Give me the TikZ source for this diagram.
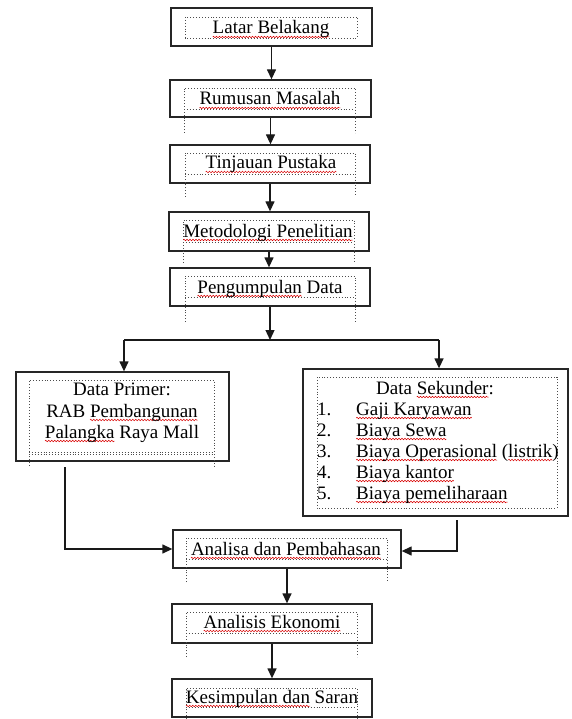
\documentclass[tikz,border=0pt]{standalone}
\usepackage{fontspec}
\setmainfont{Liberation Serif}
\usetikzlibrary{arrows.meta,decorations.pathmorphing}
\newsavebox{\sqbox}
\newcommand{\sq}[1]{\sbox{\sqbox}{#1}\rlap{\tikz[baseline=0pt,x=1pt,y=1pt]{\path[use as bounding box] (0,0); \draw[red!85!black, line width=0.5pt, decorate, decoration={zigzag, segment length=3pt, amplitude=0.8pt}] (0pt,-3pt) -- (\the\wd\sqbox,-3pt);}}\usebox{\sqbox}}
\tikzset{
  obox/.style={draw=black!85, line width=1.3pt, rectangle, inner sep=0pt},
  dotframe/.style={draw=black!70, line width=0.9pt, dotted},
  txt/.style={inner sep=0pt, font=\fontsize{19}{21}\selectfont, text=black},
  arr/.style={draw=black!90, line width=1.3pt, -{Triangle[width=9pt,length=10pt]}},
  ln/.style={draw=black!90, line width=1.3pt}
}
\begin{document}
\begin{tikzpicture}[x=1pt,y=-1pt]
\useasboundingbox (0,0) rectangle (571,719);
% outer boxes
\node[obox, minimum width=201pt, minimum height=38pt] (b1) at (271.5,27) {};
\node[obox, minimum width=201pt, minimum height=37pt] (b2) at (270.5,98.5) {};
\node[obox, minimum width=200pt, minimum height=38pt] (b3) at (270,164) {};
\node[obox, minimum width=200pt, minimum height=39pt] (b4) at (269,231.5) {};
\node[obox, minimum width=200pt, minimum height=38pt] (b5) at (270,287) {};
\node[obox, minimum width=213pt, minimum height=89pt] (bp) at (122.5,416.5) {};
\node[obox, minimum width=265pt, minimum height=147pt] (bs) at (435.5,442.5) {};
\node[obox, minimum width=228pt, minimum height=38pt] (ba) at (287,549) {};
\node[obox, minimum width=200pt, minimum height=39pt] (be) at (272,623.5) {};
\node[obox, minimum width=200pt, minimum height=38pt] (bk) at (272,698) {};
% inner dotted frames
\draw[dotframe] (185,17) rectangle (357,38);
\draw[dotframe] (184,133) -- (184,88) -- (355,88) -- (355,133) (184,109) -- (355,109);
\draw[dotframe] (185,197) -- (185,153) -- (355,153) -- (355,197) (185,174) -- (355,174);
\draw[dotframe] (183,263) -- (183,220) -- (354,220) -- (354,263) (183,242) -- (354,242);
\draw[dotframe] (185,322) -- (185,276) -- (355,276) -- (355,322) (185,297) -- (355,297);
\draw[dotframe] (29,466) -- (29,380) -- (214,380) -- (214,466) (29,452) -- (214,452) (29,454) -- (214,454);
\draw[dotframe] (317,377) rectangle (557,508);
\draw[dotframe] (186,582) -- (186,538) -- (387,538) -- (387,582) (186,559) -- (387,559);
\draw[dotframe] (186,657) -- (186,612) -- (357,612) -- (357,657) (186,633) -- (357,633);
\draw[dotframe] (186,719) -- (186,688) -- (357,688) -- (357,719) (186,707) -- (357,707);
% texts
\node[txt, anchor=base] (t1) at (271,34) {\sq{Latar Belakang}};
\node[txt, anchor=base] (t2) at (270,105) {\sq{Rumusan Masalah}};
\node[txt, anchor=base] (t3) at (271,169) {\sq{Tinjauan Pustaka}};
\node[txt, anchor=base] (t4) at (268,237) {\sq{Metodologi Penelitian}};
\node[txt, anchor=base] (t5) at (270,293) {\sq{Pengumpulan} Data};
\node[txt, anchor=base] (tp1) at (122,395) {Data Primer:};
\node[txt, anchor=base] (tp2) at (122,417) {RAB \sq{Pembangunan}};
\node[txt, anchor=base] (tp3) at (122,438) {\sq{Palangka} Raya Mall};
\node[txt, anchor=base] (ts0) at (435,394) {Data \sq{Sekunder}:};
\node[txt, anchor=base west] (n1) at (317,415) {1.};
\node[txt, anchor=base west] (n2) at (317,436) {2.};
\node[txt, anchor=base west] (n3) at (317,457) {3.};
\node[txt, anchor=base west] (n4) at (317,478) {4.};
\node[txt, anchor=base west] (n5) at (317,499) {5.};
\node[txt, anchor=base west] (s1) at (356,415) {\sq{Gaji Karyawan}};
\node[txt, anchor=base west] (s2) at (356,436) {\sq{Biaya Sewa}};
\node[txt, anchor=base west] (s3) at (356,457) {\sq{Biaya Operasional} (\sq{listrik})};
\node[txt, anchor=base west] (s4) at (356,478) {\sq{Biaya kantor}};
\node[txt, anchor=base west] (s5) at (356,499) {\sq{Biaya pemeliharaan}};
\node[txt, anchor=base] (ta) at (286,555) {\sq{Analisa dan Pembahasan}};
\node[txt, anchor=base] (te) at (272,628) {\sq{Analisis Ekonomi}};
\node[txt, anchor=base] (tk) at (272,703) {\sq{Kesimpulan dan} Saran};
% connectors
\draw[arr] (b1.south) -- (b1.south |- b2.north);
\draw[arr] (b2.south) -- (b2.south |- b3.north);
\draw[arr] (b3.south) -- (b3.south |- b4.north);
\draw[arr] (b4.south) -- (b4.south |- b5.north);
\coordinate (j) at (270,340);
\coordinate (jl) at (124,340);
\coordinate (jr) at (439,340);
\draw[arr] (b5.south) -- (j);
\draw[ln] (jl) -- (jr);
\draw[arr] (jl) -- (jl |- bp.north);
\draw[arr] (jr) -- (jr |- bs.north);
\coordinate (p1) at (65,467);
\coordinate (p2) at (65,549);
\draw[arr] (p1) -- (p2) -- (ba.west);
\coordinate (q1) at (457,520);
\coordinate (q2) at (457,551);
\draw[arr] (q1) -- (q2) -- (q2 -| ba.east);
\draw[arr] (ba.south) -- (ba.south |- be.north);
\draw[arr] (be.south) -- (be.south |- bk.north);
\end{tikzpicture}
\end{document}
